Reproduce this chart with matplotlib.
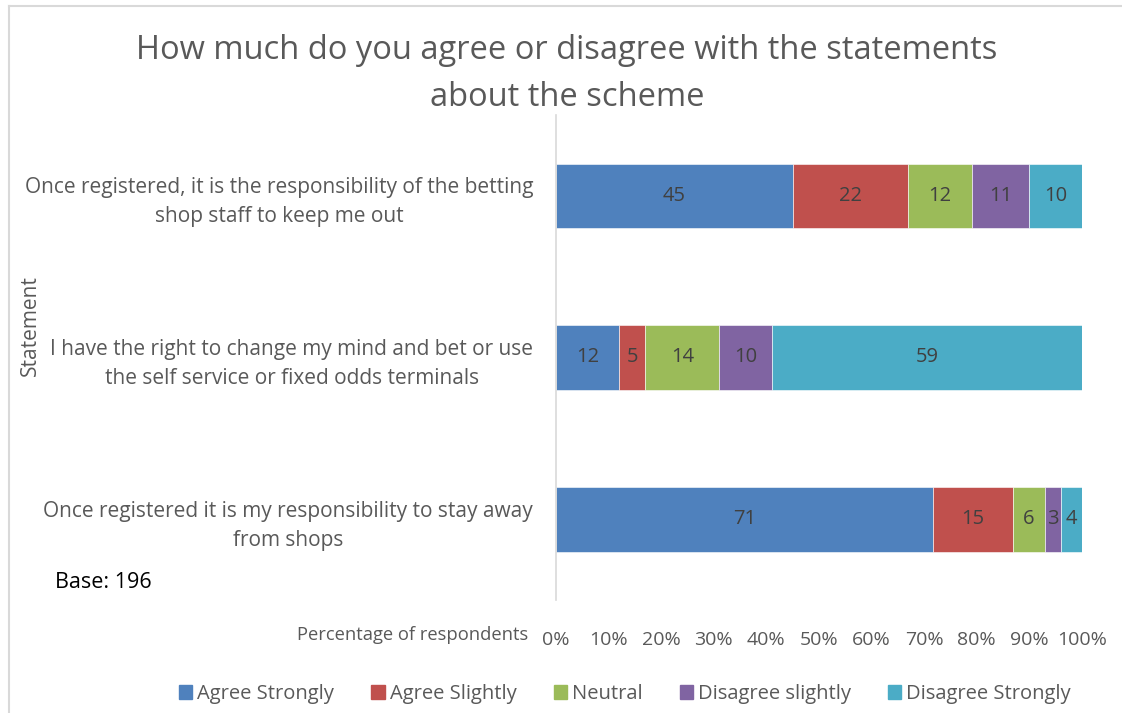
import numpy as np
import matplotlib.pyplot as plt
from matplotlib.patches import Rectangle
from matplotlib.lines import Line2D

plt.rcParams['font.family'] = ['Open Sans', 'DejaVu Sans']

statements = [
    "Once registered, it is the responsibility of the betting\nshop staff to keep me out",
    "I have the right to change my mind and bet or use\nthe self service or fixed odds terminals",
    "Once registered it is my responsibility to stay away\nfrom shops",
]
responses = ["Agree Strongly", "Agree Slightly", "Neutral", "Disagree slightly", "Disagree Strongly"]
agree_strongly = [45, 12, 71]
agree_slightly = [22, 5, 15]
neutral = [12, 14, 6]
disagree_slightly = [11, 10, 3]
disagree_strongly = [10, 59, 4]
xticks = [0, 10, 20, 30, 40, 50, 60, 70, 80, 90, 100]

colors = ["#4F81BD", "#C0504D", "#9BBB59", "#8064A2", "#4BACC6"]
grey = "#595959"

series = np.array([agree_strongly, agree_slightly, neutral, disagree_slightly, disagree_strongly], dtype=float)
# 100% stacked: each row scaled to its own total
share = series / series.sum(axis=0) * 100

fig = plt.figure(figsize=(11.22, 7.13), dpi=100)
ax = fig.add_axes([556 / 1122, 1 - 600 / 713, 526 / 1122, 485 / 713])

y = np.arange(len(statements))
left = np.zeros(len(statements))
for i, name in enumerate(responses):
    bars = ax.barh(y, share[i], left=left, height=0.40, color=colors[i], label=name,
                   edgecolor="white", linewidth=0.4)
    for j, b in enumerate(bars):
        ax.text(left[j] + share[i][j] / 2, y[j], f"{int(series[i][j])}",
                ha="center", va="center", fontsize=14.5, color="#404040")
    left += share[i]

ax.set_xlim(0, 100)
ax.set_ylim(2.5, -0.5)
ax.set_yticks(y)
ax.set_yticklabels(statements, fontsize=15, color=grey, ha="right", multialignment="center",
                   linespacing=1.5)
ax.tick_params(axis="y", length=0, pad=16.5)
ax.set_xticks(xticks)
ax.set_xticklabels([f"{t}%" for t in xticks], fontsize=14, color=grey)
ax.tick_params(axis="x", length=0, pad=22)
for s in ["top", "right", "bottom"]:
    ax.spines[s].set_visible(False)
ax.spines["left"].set_color("#D9D9D9")
ax.spines["left"].set_linewidth(1.2)

fig.text(567 / 1122, 1 - 74 / 713, "How much do you agree or disagree with the statements\nabout the scheme",
         ha="center", va="center", fontsize=23.5, color=grey, linespacing=1.55)
fig.text(30 / 1122, 1 - 326 / 713, "Statement", rotation=90, ha="center", va="center",
         fontsize=15, color=grey)
fig.text(528 / 1122, 1 - 635 / 713, "Percentage of respondents", ha="right", va="center",
         fontsize=13.2, color=grey)
fig.text(55 / 1122, 1 - 583 / 713, "Base: 196", ha="left", va="center", fontsize=15.5, color="black")

handles = [Rectangle((0, 0), 1, 1, color=c) for c in colors]
leg = fig.legend(handles, responses, loc="center", bbox_to_anchor=(625 / 1122, 1 - 694 / 713),
                 ncol=5, frameon=False, fontsize=14.5, handlelength=0.65, handleheight=0.65,
                 handletextpad=0.25, columnspacing=1.85)
for t in leg.get_texts():
    t.set_color(grey)

# outer chart frame (top and left edges)
fig.add_artist(Line2D([9 / 1122, 9 / 1122], [0, 1 - 6 / 713], transform=fig.transFigure,
                      color="#D9D9D9", linewidth=1.5))
fig.add_artist(Line2D([9 / 1122, 1], [1 - 6 / 713, 1 - 6 / 713], transform=fig.transFigure,
                      color="#D9D9D9", linewidth=1.5))

fig.savefig("out.png", dpi=100)
